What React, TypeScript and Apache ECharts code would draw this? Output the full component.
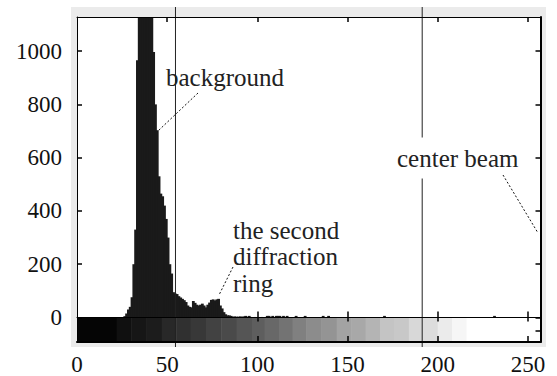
import React, { useEffect, useRef } from "react";
import * as echarts from "echarts";

// Histogram bins (grey level) and pixel counts
const binStarts = [
  26, 27, 28, 29, 30, 31, 32, 33, 34, 35, 36, 37, 38, 39, 40, 41, 42, 43, 44, 45,
  46, 47, 48, 49, 50, 51, 52, 53, 54, 55, 56, 57, 58, 59, 60, 61, 62, 63, 64, 65,
  66, 67, 68, 69, 70, 71, 72, 73, 74, 75, 76, 77, 78, 79, 80, 81, 82, 83, 84, 85,
  86, 87, 88, 89, 90, 91, 92, 93, 94, 95, 96, 98, 100, 102, 105, 106, 108, 110, 111, 112,
  114, 116, 121, 126, 136, 139, 170, 231,
];
const binCounts = [
  5, 15, 30, 40, 76, 200, 330, 966, 1250, 1400, 1500, 1500, 1450, 1400, 1300, 1200, 997, 800, 703, 530,
  465, 455, 420, 370, 300, 200, 165, 95, 90, 88, 80, 75, 70, 65, 58, 45, 40, 38, 62, 55,
  48, 45, 48, 52, 45, 38, 48, 56, 66, 68, 64, 68, 70, 45, 34, 20, 12, 8, 8, 6,
  3, 4, 3, 3, 4, 3, 4, 6, 3, 6, 2, 2, 2, 2, 6, 6, 6, 6, 6, 6,
  6, 6, 6, 6, 6, 6, 6, 6,
];

// Grey-scale strip below zero
const stripEdges = [
  0, 22, 30, 38.5, 47, 55, 63, 71.5, 80, 88.5, 97, 104, 112, 119.5, 127, 135.5, 144, 152,
  160, 168, 176, 184, 192, 200, 208, 216, 257,
];
const stripGrey = [
  5, 16, 22, 28, 40, 48, 56, 66, 74, 85, 94, 104, 115, 128, 140, 148, 163, 168, 180, 196,
  200, 216, 220, 235, 246, 255,
];

// Vertical marker lines (grey level)
const markerX = [54.6, 191.4];

const xTicks = [0, 50, 100, 150, 200, 250];
const yTicks = [0, 200, 400, 600, 800, 1000];
const rightYTicks = [-50, 0, 200, 400, 600, 800, 1000];

const X_MIN = 0;
const X_MAX = 257;
const Y_MIN = -92;
const Y_MAX = 1128;

const FONT = '"Liberation Serif", "Times New Roman", serif';

export default function App() {
  const ref = useRef<HTMLDivElement>(null);

  useEffect(() => {
    if (!ref.current) return;
    const chart = echarts.init(ref.current, undefined, { renderer: "svg" });

    const histData = binStarts.map((b, i) => [b, binCounts[i]]);
    const stripData = stripGrey.map((g, i) => [stripEdges[i], stripEdges[i + 1], g]);
    const markerData = markerX.map((x) => [x]);

    const baseX = {
      type: "value",
      min: X_MIN,
      max: X_MAX,
      splitLine: { show: false },
      z: 10,
    };
    const baseY = {
      type: "value",
      min: Y_MIN,
      max: Y_MAX,
      splitLine: { show: false },
      z: 10,
    };

    chart.setOption({
      animation: false,
      backgroundColor: "#fff",
      grid: {
        left: 77,
        right: 16.5,
        top: 17,
        bottom: 34,
        show: true,
        backgroundColor: "#fff",
        borderWidth: 0,
      },
      xAxis: [
        {
          ...baseX,
          position: "bottom",
          axisLine: { onZero: false, lineStyle: { color: "#000", width: 2 } },
          axisTick: {
            inside: true,
            length: 6,
            lineStyle: { color: "#000", width: 1.5 },
            customValues: [100, 150, 200, 250],
          },
          axisLabel: {
            customValues: xTicks,
            margin: 11,
            fontSize: 23,
            fontFamily: FONT,
            color: "#111",
            formatter: (v: number) => String(v),
          },
        },
        {
          ...baseX,
          position: "top",
          axisLine: { onZero: false, lineStyle: { color: "#000", width: 1 } },
          axisTick: {
            inside: true,
            length: 5,
            lineStyle: { color: "#000", width: 1.5 },
            customValues: [50, 100, 150, 200, 250],
          },
          axisLabel: { show: false },
        },
        {
          ...baseX,
          position: "bottom",
          axisLine: { onZero: true, onZeroAxisIndex: 0, lineStyle: { color: "#000", width: 1 } },
          axisTick: {
            inside: true,
            length: 6,
            lineStyle: { color: "#000", width: 1.5 },
            customValues: [100, 150, 200, 250],
          },
          axisLabel: { show: false },
        },
        {
          ...baseX,
          position: "bottom",
          axisLine: { show: false, onZero: true, onZeroAxisIndex: 0 },
          axisTick: {
            inside: false,
            length: 4,
            lineStyle: { color: "#000", width: 1.5 },
            customValues: [100, 150, 200, 250],
          },
          axisLabel: { show: false },
        },
      ],
      yAxis: [
        {
          ...baseY,
          position: "left",
          axisLine: { show: true, onZero: false, lineStyle: { color: "#000", width: 1 } },
          axisTick: {
            show: true,
            inside: true,
            length: 5,
            lineStyle: { color: "#000", width: 1.5 },
            customValues: yTicks,
          },
          axisLabel: {
            customValues: yTicks,
            margin: 15,
            fontSize: 23,
            fontFamily: FONT,
            color: "#111",
            formatter: (v: number) => String(v),
          },
        },
        {
          ...baseY,
          position: "right",
          axisLine: { show: true, onZero: false, lineStyle: { color: "#000", width: 2 } },
          axisTick: {
            show: true,
            inside: true,
            length: 5,
            lineStyle: { color: "#000", width: 1.5 },
            customValues: rightYTicks,
          },
          axisLabel: { show: false },
        },
      ],
      series: [
        {
          type: "custom",
          name: "strip",
          xAxisIndex: 0,
          yAxisIndex: 0,
          clip: true,
          z: 2,
          data: stripData,
          renderItem: (_p: any, api: any) => {
            const a = api.coord([api.value(0), 0]);
            const b = api.coord([api.value(1), Y_MIN]);
            const g = api.value(2);
            const c = `rgb(${g},${g},${g})`;
            return {
              type: "rect",
              shape: { x: a[0], y: a[1], width: b[0] - a[0] + 0.5, height: b[1] - a[1] },
              style: { fill: c },
            };
          },
        },
        {
          type: "custom",
          name: "histogram",
          xAxisIndex: 0,
          yAxisIndex: 0,
          clip: true,
          z: 3,
          data: histData,
          renderItem: (_p: any, api: any) => {
            const x = api.value(0);
            const a = api.coord([x, 0]);
            const b = api.coord([x + 1, api.value(1)]);
            return {
              type: "rect",
              shape: { x: a[0] - 0.5, y: b[1], width: b[0] - a[0] + 1, height: a[1] - b[1] },
              style: { fill: "#1a1a1a" },
            };
          },
        },
        {
          type: "custom",
          name: "markers",
          xAxisIndex: 0,
          yAxisIndex: 0,
          clip: false,
          z: 5,
          data: markerData,
          renderItem: (_p: any, api: any) => {
            const x = api.value(0);
            const t = api.coord([x, Y_MAX]);
            const b = api.coord([x, Y_MIN]);
            return {
              type: "line",
              shape: { x1: t[0], y1: t[1] - 10, x2: b[0], y2: b[1] + 5 },
              style: { stroke: "#222", lineWidth: 1 },
            };
          },
        },
      ],
      graphic: [
        {
          type: "rect",
          z: -10,
          silent: true,
          shape: { x: 71, y: 7, width: 475, height: 340 },
          style: { fill: "#ebebeb" },
        },
        {
          type: "text",
          z: 100,
          x: 166,
          y: 77,
          style: {
            text: "background",
            fontSize: 25,
            fontFamily: FONT,
            fill: "#222",
            verticalAlign: "middle",
          },
        },
        {
          type: "text",
          z: 100,
          x: 233,
          y: 217,
          style: {
            text: "the second\ndiffraction\nring",
            fontSize: 25,
            lineHeight: 26.5,
            fontFamily: FONT,
            fill: "#222",
            verticalAlign: "top",
          },
        },
        {
          type: "text",
          z: 100,
          x: 396,
          y: 158,
          style: {
            text: "center beam",
            fontSize: 25,
            fontFamily: FONT,
            fill: "#222",
            verticalAlign: "middle",
            backgroundColor: "#fff",
            padding: [8, 1],
          },
        },
        {
          type: "line",
          z: 100,
          shape: { x1: 198, y1: 93, x2: 158, y2: 131 },
          style: { stroke: "#111", lineWidth: 1, lineDash: [2, 2] },
        },
        {
          type: "line",
          z: 100,
          shape: { x1: 233, y1: 267, x2: 219, y2: 295 },
          style: { stroke: "#111", lineWidth: 1, lineDash: [2, 2] },
        },
        {
          type: "line",
          z: 100,
          shape: { x1: 503, y1: 175, x2: 538, y2: 233 },
          style: { stroke: "#111", lineWidth: 1, lineDash: [2, 2] },
        },
      ],
    });

    return () => chart.dispose();
  }, []);

  return (
    <div
      ref={ref}
      style={{ position: "fixed", left: 0, top: 0, width: 557, height: 376 }}
    />
  );
}
